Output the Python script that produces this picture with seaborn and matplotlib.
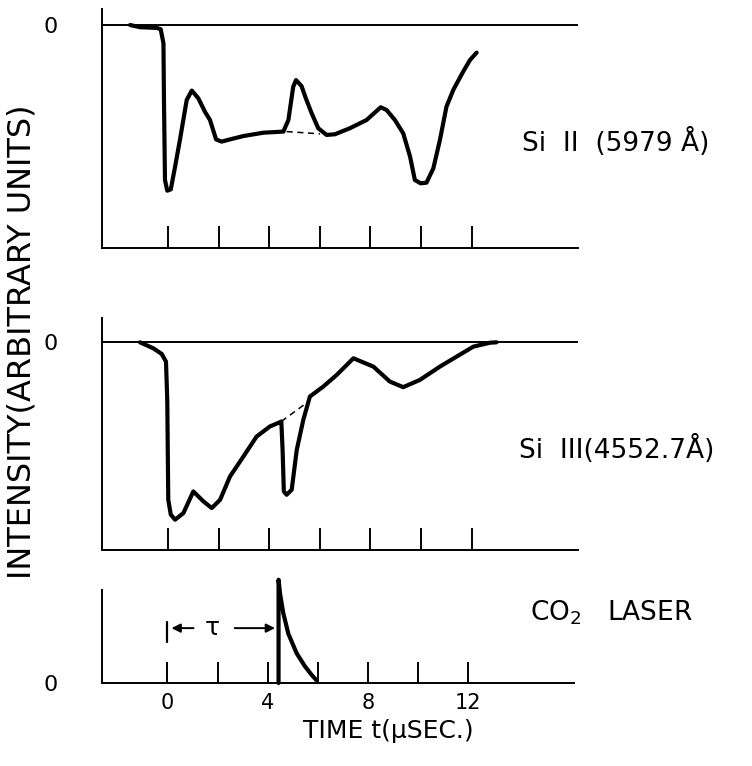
import matplotlib
matplotlib.use("Agg")
import matplotlib.pyplot as plt
import seaborn as sns

# ---------------- data (time in microseconds, intensity arbitrary) -------------
si2_t = [-1.50, -1.11, -0.45, -0.29, -0.18, -0.16, -0.12, -0.03, 0.11, 0.28, 0.47,
         0.74, 0.94, 1.20, 1.46, 1.66, 1.90, 2.12, 2.45, 2.98, 3.77, 4.56, 4.76,
         4.95, 5.06, 5.28, 5.45, 5.68, 5.94, 6.27, 6.60, 7.19, 7.85, 8.41, 8.64,
         8.97, 9.30, 9.57, 9.76, 9.99, 10.22, 10.49, 10.75, 11.01, 11.28, 11.67,
         11.94, 12.20]
si2_v = [0.0, -0.010, -0.013, -0.019, -0.082, -0.336, -0.695, -0.743, -0.737, -0.635,
         -0.516, -0.336, -0.294, -0.329, -0.389, -0.426, -0.513, -0.523, -0.513,
         -0.498, -0.483, -0.478, -0.426, -0.277, -0.247, -0.274, -0.329, -0.396,
         -0.463, -0.493, -0.490, -0.463, -0.426, -0.369, -0.381, -0.426, -0.486,
         -0.590, -0.695, -0.710, -0.707, -0.643, -0.516, -0.366, -0.291, -0.209,
         -0.157, -0.124]
si2_dash_t = [4.69, 6.01]
si2_dash_v = [-0.478, -0.488]

si3_t = [-1.11, -0.58, -0.25, -0.08, -0.03, 0.01, 0.11, 0.28, 0.61, 1.00, 1.40,
         1.73, 2.06, 2.45, 2.98, 3.50, 4.03, 4.40, 4.48, 4.53, 4.58, 4.69, 4.89,
         5.09, 5.35, 5.61, 6.14, 6.67, 7.33, 8.12, 8.77, 9.30, 9.96, 10.75, 11.41,
         12.07, 12.73, 12.99]
si3_v = [0.0, -0.029, -0.056, -0.093, -0.277, -0.758, -0.830, -0.854, -0.822, -0.718,
         -0.766, -0.798, -0.758, -0.646, -0.550, -0.454, -0.405, -0.386, -0.381,
         -0.518, -0.718, -0.734, -0.710, -0.518, -0.373, -0.261, -0.213, -0.157,
         -0.077, -0.117, -0.189, -0.216, -0.181, -0.117, -0.069, -0.021, -0.002, 0.0]
si3_dash_t = [4.48, 5.50]
si3_dash_v = [-0.381, -0.290]

laser_t = [4.43, 4.43, 4.49, 4.62, 4.82, 5.15, 5.48, 5.74, 5.94]
laser_v = [0.0, 1.11, 0.96, 0.75, 0.53, 0.32, 0.18, 0.09, 0.03]

tick_times = [0, 2, 4, 6, 8, 10, 12]
tick_labels = ["0", "", "4", "", "8", "", "12"]

labels = ["Si  II  (5979 Å)", "Si  III(4552.7Å)", "CO$_2$   LASER"]

# ---------------- style ----------------
sns.set_theme(style="white")
plt.rcParams["font.family"] = ["DejaVu Sans"]
plt.rcParams["text.color"] = "black"
plt.rcParams["xtick.color"] = "black"
plt.rcParams["ytick.color"] = "black"
plt.rcParams["mathtext.fontset"] = "dejavusans"

W, H = 752, 766
fig = plt.figure(figsize=(W / 100, H / 100), dpi=100)

def rect(x0, y0, x1, y1):
    return [x0 / W, 1 - y1 / H, (x1 - x0) / W, (y1 - y0) / H]

XL = (-2.61, 16.21)
ax1 = fig.add_axes(rect(102, 9, 578, 248))
ax2 = fig.add_axes(rect(102, 318, 578, 550))
ax3 = fig.add_axes(rect(102, 590, 574, 683))

LW = 3.0
for ax in (ax1, ax2, ax3):
    for s in ("top", "right"):
        ax.spines[s].set_visible(False)
    for s in ("left", "bottom"):
        ax.spines[s].set_color("black")
        ax.spines[s].set_linewidth(1.4)
    ax.set_xlim(*XL)
    ax.set_xticks(tick_times)
    ax.tick_params(axis="x", direction="in", length=16, width=1.4, colors="black",
                   labelbottom=False, bottom=True)
    ax.set_yticks([0])
    ax.set_yticklabels(["0"])
    ax.tick_params(axis="y", length=0, pad=32, labelsize=16, labelcolor="black")
    ax.set_facecolor("none")
    ax.grid(False)

# top panel
ax1.set_ylim(-1, 0.0717)
ax1.axhline(0, color="black", lw=1.4)
sns.lineplot(x=si2_t, y=si2_v, ax=ax1, color="black", lw=LW, sort=False, estimator=None)
ax1.plot(si2_dash_t, si2_dash_v, color="black", lw=1.1, ls=(0, (4, 3)))

# middle panel
ax2.set_ylim(-1, 0.117)
ax2.axhline(0, color="black", lw=1.4)
sns.lineplot(x=si3_t, y=si3_v, ax=ax2, color="black", lw=LW, sort=False, estimator=None)
ax2.plot(si3_dash_t, si3_dash_v, color="black", lw=1.1, ls=(0, (4, 3)))

# bottom panel
ax3.set_ylim(0, 1)
ax3.tick_params(axis="x", length=15, labelbottom=True, labelsize=15, pad=7,
                labelcolor="black")
ax3.set_xticklabels(tick_labels)
sns.lineplot(x=laser_t, y=laser_v, ax=ax3, color="black", lw=LW, sort=False,
             estimator=None, clip_on=False)
# tau marker
ax3.plot([0, 0], [0.44, 0.66], color="black", lw=1.6)
ax3.annotate("", xy=(0.05, 0.59), xytext=(1.15, 0.59),
             arrowprops=dict(arrowstyle="-|>", color="black", lw=1.4, mutation_scale=13))
ax3.annotate("", xy=(4.40, 0.59), xytext=(2.57, 0.59),
             arrowprops=dict(arrowstyle="-|>", color="black", lw=1.4, mutation_scale=13))
ax3.text(1.80, 0.59, "τ", ha="center", va="center", fontsize=18, color="black")

# text labels
fig.text(522 / W, 1 - 142 / H, labels[0], fontsize=19, ha="left", va="center")
fig.text(519 / W, 1 - 449 / H, labels[1], fontsize=19, ha="left", va="center")
fig.text(530 / W, 1 - 613 / H, labels[2], fontsize=19, ha="left", va="center")
fig.text(388 / W, 1 - 731 / H, "TIME t(µSEC.)", fontsize=18, ha="center", va="center")
fig.text(22 / W, 1 - 342 / H, "INTENSITY(ARBITRARY UNITS)", fontsize=23,
         rotation=90, ha="center", va="center")

fig.savefig("out.png", dpi=100, facecolor="white")
